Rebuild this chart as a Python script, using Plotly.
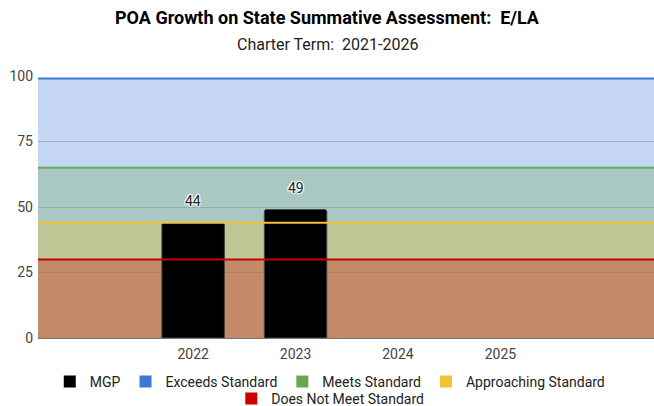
import plotly.graph_objects as go

# ---- data ----
years = [2022, 2023, 2024, 2025]
mgp_years = [2022, 2023]
mgp_values = [44, 49]
y_ticks = [0, 25, 50, 75, 100]

band_names = ["Exceeds Standard", "Meets Standard", "Approaching Standard", "Does Not Meet Standard"]
band_values = [99, 65, 44, 30]
band_colors = ["#3c78d8", "#6aa84f", "#f1c232", "#cc0000"]

title_text = "POA Growth on State Summative Assessment:  E/LA"
subtitle_text = "Charter Term:  2021-2026"

x_range_years = [2020.485, 2026.5]

FONT = "Roboto"
W, H = 654, 406
M_L, M_R, M_T, M_B = 38, 0, 76, 68
PLOT_H = H - M_T - M_B
PLOT_W = W - M_L - M_R


def rgba(hexc, a):
    hexc = hexc.lstrip("#")
    r, g, b = int(hexc[0:2], 16), int(hexc[2:4], 16), int(hexc[4:6], 16)
    return f"rgba({r},{g},{b},{a})"


def paper_y(px):
    return (H - M_B - px) / PLOT_H


def paper_x(px):
    return (px - M_L) / PLOT_W


fig = go.Figure()

# band fills (base layer)
for name, v, c in zip(band_names, band_values, band_colors):
    fig.add_trace(go.Scatter(
        x=[0, 1], y=[v, v], xaxis="x", yaxis="y", mode="lines",
        line=dict(width=0, color=c), fill="tozeroy", fillcolor=rgba(c, 0.3),
        showlegend=False, hoverinfo="skip"))

# bars (middle layer)
fig.add_trace(go.Bar(
    x=mgp_years, y=mgp_values, xaxis="x2", yaxis="y", name="MGP",
    marker=dict(color="#000000", line=dict(color="#444444", width=1), cornerradius=2),
    width=0.61, showlegend=False))

# band lines (top layer)
for name, v, c in zip(band_names, band_values, band_colors):
    fig.add_trace(go.Scatter(
        x=[0, 1], y=[v, v], xaxis="x3", yaxis="y", mode="lines",
        line=dict(width=2, color=c), showlegend=False, hoverinfo="skip"))

# legend entries (two rows -> two legends)
legend_names = ["MGP"] + band_names
legend_colors = ["#000000"] + band_colors
for i, (name, c) in enumerate(zip(legend_names, legend_colors)):
    fig.add_trace(go.Scatter(
        x=[None], y=[None], xaxis="x2", yaxis="y", mode="markers", name=name,
        marker=dict(symbol="square", size=12, color=c), showlegend=True,
        legend="legend" if i < 4 else "legend2"))

# value labels
halo = "1px 1px 1px #fff, -1px -1px 1px #fff, 1px -1px 1px #fff, -1px 1px 1px #fff"
for xv, yv in zip(mgp_years, mgp_values):
    fig.add_annotation(
        x=xv, y=yv, xref="x2", yref="y", text=str(yv), showarrow=False,
        yshift=22, font=dict(family=FONT, size=14, color="#222222", shadow=halo))

# title + subtitle
fig.add_annotation(x=paper_x(327), xref="paper", y=paper_y(18), yref="paper", xanchor="center",
                   yanchor="middle", showarrow=False, text="<b>" + title_text + "</b>",
                   font=dict(family=FONT, size=18, color="#000000"))
fig.add_annotation(x=paper_x(327), xref="paper", y=paper_y(45), yref="paper", xanchor="center",
                   yanchor="middle", showarrow=False, text=subtitle_text,
                   font=dict(family=FONT, size=16, color="#222222"))

legend_common = dict(orientation="h", xanchor="center", xref="container",
                     yanchor="top", yref="container", bgcolor="rgba(0,0,0,0)",
                     font=dict(family=FONT, size=14, color="#222222"),
                     itemwidth=30, traceorder="normal")

fig.update_layout(
    width=W, height=H,
    margin=dict(l=M_L, r=M_R, t=M_T, b=M_B, autoexpand=False),
    paper_bgcolor="white", plot_bgcolor="white",
    font=dict(family=FONT, size=14, color="#444444"),
    xaxis=dict(range=[0, 1], visible=False, fixedrange=True, automargin=False),
    xaxis2=dict(range=x_range_years, overlaying="x", side="bottom", automargin=False,
                tickmode="array", tickvals=years, ticktext=[str(y) for y in years],
                showgrid=False, zeroline=False, showline=True, linecolor="#777777",
                linewidth=1, ticks="", ticklabelstandoff=3,
                tickfont=dict(family=FONT, size=14, color="#444444")),
    xaxis3=dict(range=[0, 1], overlaying="x", visible=False, automargin=False),
    yaxis=dict(range=[0, 100], tickmode="array", tickvals=y_ticks, automargin=False,
               showgrid=True, gridcolor="#cccccc", gridwidth=1, zeroline=False,
               ticks="", ticklabelstandoff=4,
               tickfont=dict(family=FONT, size=14, color="#444444")),
    legend=dict(x=0.505, y=1 - 366 / H, **legend_common),
    legend2=dict(x=0.505, y=1 - 383 / H, **legend_common),
    barmode="overlay",
    showlegend=True,
)

fig.write_html("out.html", config={"displayModeBar": False},
               post_script="document.body.style.margin='0px';document.body.style.overflow='hidden';")
